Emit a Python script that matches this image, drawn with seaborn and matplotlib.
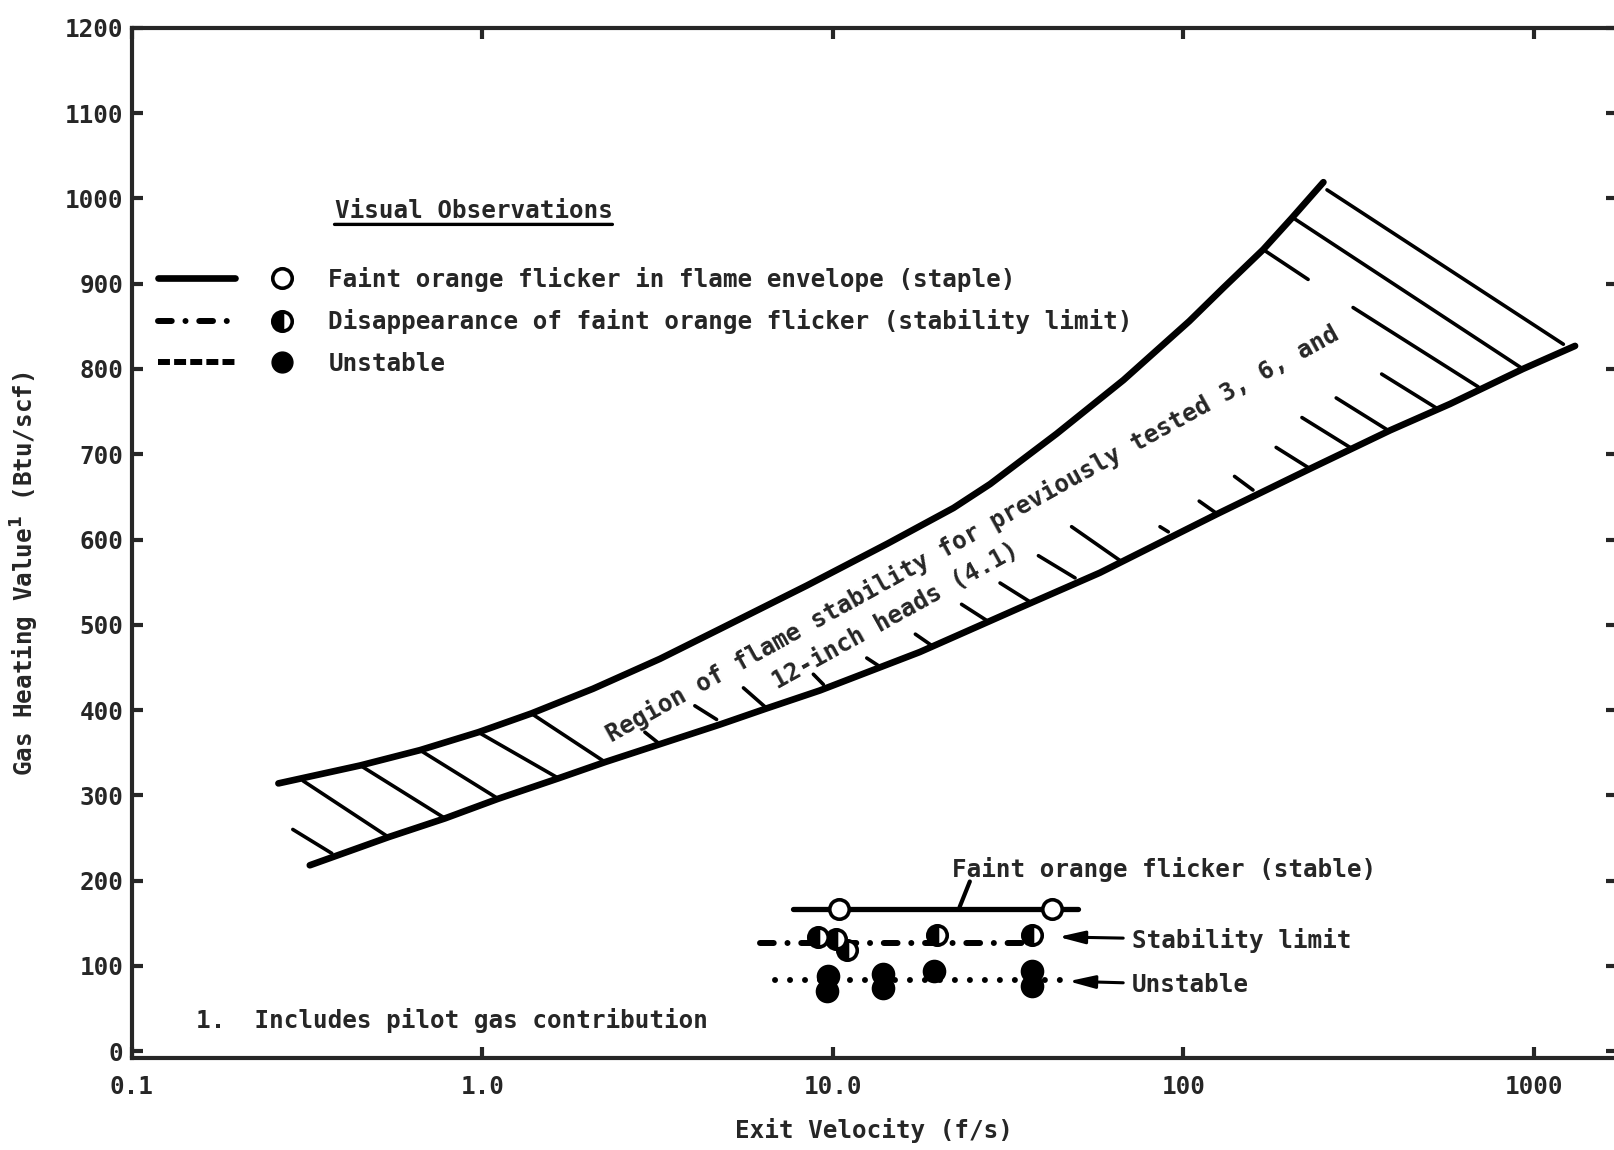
import pandas as pd
import matplotlib.pyplot as plt
import seaborn as sns
from matplotlib.lines import Line2D
from matplotlib.legend_handler import HandlerTuple
from matplotlib.ticker import FixedLocator, NullLocator

# =========================
# DATA
# =========================

# upper / lower boundary of the stability band for the 3, 6 and 12-inch heads
upper_x = [0.262, 0.448, 0.664, 0.974, 1.38, 2.07, 3.21, 4.76, 8.43, 14.3, 22.1,
           28.1, 43.5, 67.5, 104, 130, 169, 204, 251]
upper_y = [314, 335, 353, 374, 396, 425, 460, 495, 546, 595, 637,
           665, 724, 787, 856, 895, 940, 977, 1019]

lower_x = [0.322, 0.540, 0.783, 1.11, 1.65, 2.24, 3.21, 4.76, 6.48, 9.19, 17.7,
           34.2, 57.8, 125, 230, 389, 577, 931, 1311]
lower_y = [218, 251, 273, 296, 320, 339, 360, 383, 402, 423, 468,
           520, 561, 630, 683, 728, 759, 800, 827]

# hatch strokes inside the band (start / end)
hatch_x0 = [0.288, 0.308, 0.453, 0.664, 0.974, 1.38, 2.91, 4.04, 5.56, 8.80, 12.5,
            17.2, 23.3, 30.0, 38.6, 48.0, 85.8, 111, 140, 184, 218, 273, 368,
            305, 169, 206, 257]
hatch_y0 = [260, 317, 334, 353, 374, 396, 374, 405, 426, 442, 461,
            489, 524, 549, 581, 615, 615, 645, 674, 708, 743, 766, 794,
            872, 940, 977, 1010]
hatch_x1 = [0.372, 0.540, 0.783, 1.11, 1.65, 2.24, 3.21, 4.66, 6.48, 9.40, 13.5,
            19.1, 27.5, 36.5, 49.1, 66.7, 90.6, 125, 158, 230, 299, 384, 528,
            694, 227, 931, 1214]
hatch_y1 = [232, 251, 273, 296, 320, 339, 360, 389, 402, 430, 452,
            476, 505, 527, 555, 574, 609, 630, 658, 683, 708, 728, 754,
            779, 905, 800, 829]

# observations for the tested head
stable_x = [7.7, 50.1]
stable_y = [167, 167]
stable_pts_x = [10.4, 42.1]
stable_pts_y = [167, 167]

limit_x = [6.2, 37.0]
limit_y = [127, 127]
limit_pts_x = [9.09, 10.2, 10.96, 19.8, 36.9]
limit_pts_y = [134, 131, 119, 136, 136]

unstable_x = [6.84, 45.0]
unstable_y = [84, 84]
unstable_pts_x = [9.7, 9.6, 13.9, 13.9, 19.4, 36.9, 36.9]
unstable_pts_y = [88, 70, 90, 74, 94, 94, 76]

x_ticks = [0.1, 1, 10, 100, 1000]
x_tick_labels = ["0.1", "1.0", "10.0", "100", "1000"]
y_ticks = list(range(0, 1300, 100))

legend_labels = ["Faint orange flicker in flame envelope (staple)",
                 "Disappearance of faint orange flicker (stability limit)",
                 "Unstable"]

# =========================
# STYLE
# =========================

sns.set_style("ticks")
plt.rcParams["font.family"] = ["DejaVu Sans Mono", "DejaVu Sans"]
plt.rcParams["font.weight"] = "bold"
plt.rcParams["axes.labelweight"] = "bold"
FS = 17.5

DOTS = (0, (0.01, 2.5))
DASHDOT = (0, (2.3, 2.3, 0.01, 2.3))

fig = plt.figure(figsize=(16.14, 11.5), dpi=100)
ax = fig.add_axes([0.08166, 0.08, 0.9202, 0.8958])

# =========================
# STABILITY BAND
# =========================

for bx, by in [(upper_x, upper_y), (lower_x, lower_y)]:
    sns.lineplot(x=bx, y=by, sort=False, estimator=None, color="black", lw=4.8,
                 solid_capstyle="round", solid_joinstyle="round", ax=ax)

hatch = pd.DataFrame({
    "seg": list(range(len(hatch_x0))) * 2,
    "x": hatch_x0 + hatch_x1,
    "y": hatch_y0 + hatch_y1,
})
sns.lineplot(data=hatch, x="x", y="y", units="seg", estimator=None, sort=False,
             color="black", lw=2.6, solid_capstyle="round", ax=ax)

# =========================
# OBSERVATIONS
# =========================

sns.lineplot(x=stable_x, y=stable_y, sort=False, estimator=None, color="black",
             lw=3.8, solid_capstyle="round", ax=ax)
ax.plot(limit_x, limit_y, color="black", lw=4.3, ls=DASHDOT, dash_capstyle="round")
ax.plot(unstable_x, unstable_y, color="black", lw=4.3, ls=DOTS, dash_capstyle="round")

ax.plot(stable_pts_x, stable_pts_y, ls="none", marker="o", ms=14,
        mfc="white", mec="black", mew=2.6, zorder=5)
ax.plot(limit_pts_x, limit_pts_y, ls="none", marker="o", ms=14, fillstyle="left",
        mfc="black", mfcalt="white", mec="black", mew=2.6, zorder=5)
ax.plot(unstable_pts_x, unstable_pts_y, ls="none", marker="o", ms=15,
        mfc="black", mec="black", mew=2, zorder=5)

# =========================
# AXES
# =========================

ax.set_xscale("log")
ax.set_xlim(0.1, 1727)
ax.set_ylim(-8, 1200)
ax.xaxis.set_major_locator(FixedLocator(x_ticks))
ax.xaxis.set_minor_locator(NullLocator())
ax.set_xticklabels(x_tick_labels)
ax.set_yticks(y_ticks)
ax.tick_params(direction="in", length=8, width=3, top=True, right=True,
               labelsize=FS)
ax.tick_params(axis="x", pad=12)
ax.tick_params(axis="y", pad=6)
for s in ax.spines.values():
    s.set_linewidth(3)

ax.set_xlabel("Exit Velocity (f/s)", fontsize=FS, labelpad=14)
ax.set_ylabel("Gas Heating Value$^1$ (Btu/scf)", fontsize=FS)
ax.yaxis.set_label_coords(-0.061, 0.47)

# =========================
# TEXT
# =========================

ax.text(25.0, 607, "Region of flame stability for previously tested 3, 6, and",
        fontsize=FS, rotation=29, rotation_mode="anchor", ha="center", va="center")
ax.text(15.1, 510, "12-inch heads (4.1)", fontsize=FS, rotation=29,
        rotation_mode="anchor", ha="center", va="center")

ax.text(0.152, 36, "1.  Includes pilot gas contribution", fontsize=FS,
        ha="left", va="center")

ax.text(21.9, 213, "Faint orange flicker (stable)", fontsize=FS, ha="left", va="center")
ax.annotate("", xy=(23.0, 169), xytext=(24.6, 199),
            arrowprops=dict(arrowstyle="-", lw=3, color="black", shrinkA=0, shrinkB=0))

arrow = dict(arrowstyle="-|>,head_length=0.9,head_width=0.22", lw=2.2,
             color="black", shrinkA=4, shrinkB=0)
ax.annotate("Stability limit", xy=(44, 134), xytext=(71.4, 130), fontsize=FS,
            ha="left", va="center", arrowprops=arrow)
ax.annotate("Unstable", xy=(47, 82), xytext=(71.4, 78), fontsize=FS,
            ha="left", va="center", arrowprops=arrow)

# =========================
# LEGEND
# =========================

title = ax.text(0.1365, 0.822, "Visual Observations", transform=ax.transAxes,
                fontsize=FS, ha="left", va="center")
ax.annotate("", xy=(0, -0.05), xycoords=title, xytext=(1, -0.05), textcoords=title,
            arrowprops=dict(arrowstyle="-", lw=2.4, color="black", shrinkA=0, shrinkB=0))

handles = [
    (Line2D([], [], color="black", lw=4.8),
     Line2D([], [], ls="none", marker="o", ms=14, mfc="white", mec="black", mew=2.6)),
    (Line2D([], [], color="black", lw=4.3, ls=DASHDOT, dash_capstyle="round"),
     Line2D([], [], ls="none", marker="o", ms=14, fillstyle="left", mfc="black",
            mfcalt="white", mec="black", mew=2.6)),
    (Line2D([], [], color="black", lw=4.3, ls=(0, (2.0, 0.7))),
     Line2D([], [], ls="none", marker="o", ms=15, mfc="black", mec="black")),
]
ax.legend(handles, legend_labels, loc="upper left", bbox_to_anchor=(0.0178, 0.768),
          frameon=False, borderpad=0, borderaxespad=0, handlelength=6.67,
          handletextpad=0.33, labelspacing=0.72, fontsize=FS, numpoints=1,
          handler_map={tuple: HandlerTuple(ndivide=None, pad=0.33)})

fig.savefig("out.png", dpi=100)
